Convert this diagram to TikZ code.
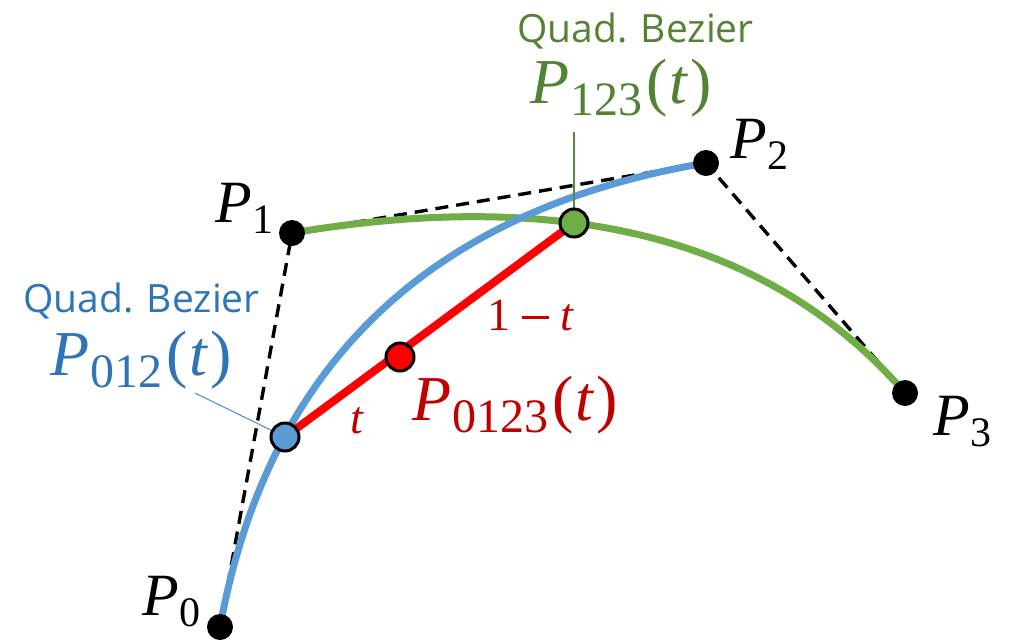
\documentclass[tikz,border=0pt]{standalone}
\usepackage{fontspec}
\newfontfamily\segoe{Open Sans}
\newfontfamily\mfont{Liberation Serif}
\usetikzlibrary{calc}
% #1 sub size, #2 sub text, #3 drop
\newcommand\PL[3]{{\itshape P}\kern1pt\raisebox{-#3}{\fontsize{#1}{#1}\selectfont #2}}
\newcommand\Tp{\kern4pt(\kern2pt{\itshape t}\kern3pt)}
\definecolor{cblue}{HTML}{5B9BD5}
\definecolor{tblue}{HTML}{2E75B6}
\definecolor{cgreen}{HTML}{70AD47}
\definecolor{tgreen}{HTML}{548235}
\definecolor{cred}{HTML}{FF0000}
\definecolor{tred}{HTML}{C00000}
\begin{document}
\begin{tikzpicture}[x=1pt,y=-1pt,
  dashline/.style={black, line width=3.4pt, dash pattern=on 13pt off 8pt},
  bluecurve/.style={cblue, line width=7pt},
  greencurve/.style={cgreen, line width=7pt},
  redline/.style={cred, line width=8pt},
  blackdot/.style={circle, fill=black, inner sep=0pt, minimum size=26pt},
  coldot/.style={circle, draw=black, line width=3pt, inner sep=0pt, minimum size=28pt},
  leader/.style={line width=1.2pt},
  sanslabel/.style={anchor=base west, inner sep=0pt, font=\segoe\fontsize{39}{47}\selectfont},
  biglabel/.style={anchor=base west, inner sep=0pt, font=\mfont\fontsize{64}{70}\selectfont},
  ptlabel/.style={anchor=base west, inner sep=0pt, font=\mfont\fontsize{60}{66}\selectfont},
  redlabel/.style={anchor=base west, inner sep=0pt, text=tred, font=\mfont\fontsize{46}{52}\selectfont}
]
\useasboundingbox (0,0) rectangle (1013,641);
\coordinate (P0) at (220,627);
\coordinate (P1) at (292,233);
\coordinate (P2) at (706,163);
\coordinate (P3) at (905,393);
\coordinate (B) at (285,437);
\coordinate (G) at (574,223);
\coordinate (R) at (400,357);
% control polygon
\draw[dashline] (P0) -- (P1) -- (P2) -- (P3);
% curves
\draw[greencurve] (P1) .. controls ($(P1)!2/3!(P2)$) and ($(P3)!2/3!(P2)$) .. (P3);
\draw[bluecurve] (P0) .. controls ($(P0)!2/3!(P1)$) and ($(P2)!2/3!(P1)$) .. (P2);
% red segment
\draw[redline] (B) -- (G);
% leader lines
\coordinate (bl) at (195,393);
\coordinate (gl) at (574,132);
\draw[leader, cblue] (bl) -- (B);
\draw[leader, cgreen!80!black] (gl) -- (G);
% dots
\node[blackdot] (d0) at (P0) {};
\node[blackdot] (d1) at (P1) {};
\node[blackdot] (d2) at (P2) {};
\node[blackdot] (d3) at (P3) {};
\node[coldot, fill=cblue] (db) at (B) {};
\node[coldot, fill=cgreen] (dg) at (G) {};
\node[coldot, fill=cred] (dr) at (R) {};
% labels
\node[sanslabel, text=tblue] (qb1) at (23,312) {Quad. Bezier};
\node[biglabel, text=tblue] (l012) at (50,375) {\PL{48}{012}{12pt}\Tp};
\node[sanslabel, text=tgreen] (qb2) at (517,42) {Quad. Bezier};
\node[biglabel, text=tgreen] (l123) at (530,103) {\PL{48}{123}{12pt}\Tp};
\node[biglabel, text=tred] (l0123) at (412,420) {\PL{48}{0123}{12pt}\Tp};
\node[redlabel] (l1t) at (487,330) {1\hspace{0.25em}\rule[0.24em]{0.6em}{0.055em}\hspace{0.25em}{\itshape t}};
\node[redlabel] (lt) at (350,433) {\itshape t};
\node[ptlabel] (lp0) at (142,615) {\PL{42}{0}{11pt}};
\node[ptlabel] (lp1) at (215,222) {\PL{42}{1}{11pt}};
\node[ptlabel] (lp2) at (730,158) {\PL{42}{2}{11pt}};
\node[ptlabel] (lp3) at (933,435) {\PL{42}{3}{11pt}};
\end{tikzpicture}
\end{document}
